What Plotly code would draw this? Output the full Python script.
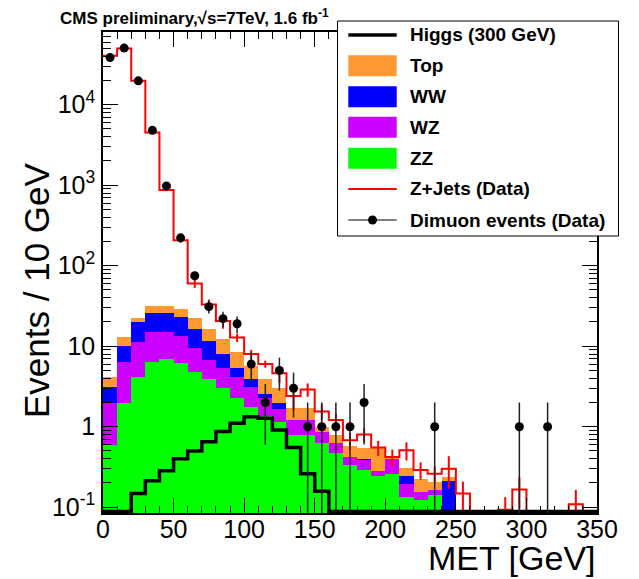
import plotly.graph_objects as go

# MET binning (GeV), 10 GeV bins from 0 to 350
met_edges = list(range(0, 360, 10))

# stacked backgrounds (events / bin), bottom to top
zz = [0.59, 1.96, 4.2, 6.34, 6.97, 6.16, 4.84, 3.89, 3.0, 2.26, 1.77, 1.36, 1.15,
      0.78, 0.78, 0.63, 0.47, 0.33, 0.29, 0.243, 0.26, 0.135, 0.122, 0.141,
      0, 0, 0, 0, 0, 0, 0, 0, 0, 0, 0]
wz = [1.37, 4.49, 7.0, 8.66, 8.23, 7.04, 4.63, 2.88, 2.34, 1.94, 1.33, 0.94, 0.5,
      0.42, 0.42, 0.24, 0.15, 0.09, 0.10, 0.037, 0.14, 0.058, 0.033, 0.022,
      0, 0, 0, 0, 0, 0, 0, 0, 0, 0, 0]
ww = [1.19, 3.75, 8.7, 10.8, 10.6, 9.8, 7.03, 4.93, 2.63, 1.14, 0.83, 0.23, 0.3,
      0, 0, 0, 0, 0, 0.01, 0, 0, 0.05, 0, 0, 0.21,
      0, 0, 0, 0, 0, 0, 0, 0, 0, 0]
top = [0.97, 2.77, 2.5, 5.4, 5.4, 6.0, 5.9, 4.8, 4.43, 3.25, 1.82, 1.36, 1.05,
       0.5, 0.49, 0.13, 0.18, 0.15, 0.15, 0.27, 0.01, 0.067, 0.07, 0.044, 0.025,
       0, 0, 0, 0, 0, 0, 0, 0, 0, 0]

# signal
higgs = [0, 0, 0.148, 0.213, 0.283, 0.40, 0.50, 0.65, 0.87, 1.10, 1.33, 1.27, 0.91,
         0.55, 0.26, 0.158, 0, 0, 0, 0, 0, 0, 0, 0, 0, 0, 0, 0, 0, 0, 0, 0, 0, 0, 0]

# Z+jets from data
zjets = [40500, 50000, 19800, 4500, 870, 207, 60, 33, 20.5, 12.8, 8.0, 6.0, 4.6,
         2.4, 2.9, 1.54, 1.21, 0.68, 0.80, 0.55, 0.42, 0.51, 0.29, 0.26, 0.30, 0.148,
         0, 0, 0.093, 0.166, 0, 0, 0, 0.109, 0]
zjets_err = [200, 220, 140, 65, 30, 14, 7, 5, 4, 1.5, 1.0, 0.6, 1.1,
             0.8, 0.55, 0.35, 0.25, 0.16, 0.16, 0.12, 0.1, 0.13, 0.07, 0.06, 0.13, 0.06,
             0, 0, 0.04, 0.07, 0, 0, 0, 0.055, 0]

# dimuon data
dimuon = [38500, 50500, 19800, 4800, 980, 222, 75, 31, 22, 19, 6, 2, 5, 3, 1, 1, 1, 1, 2,
          0, 0, 0, 0, 1, 0, 0, 0, 0, 0, 1, 0, 1, 0, 0, 0]
dimuon_err = [196, 225, 141, 69, 31, 14.9, 8.7, 5.6, 4.7, 4.4, 2.4, 1.4, 2.2, 1.7,
              1, 1, 1, 1, 1.4, 0, 0, 0, 0, 1, 0, 0, 0, 0, 0, 1, 0, 1, 0, 0, 0]

y_ticks = [0.1, 1, 10, 100, 1000, 10000]
y_ticktext = ["10<sup>-1</sup>", "1", "10", "10<sup>2</sup>", "10<sup>3</sup>", "10<sup>4</sup>"]

legend_labels = ["Higgs (300 GeV)", "Top", "WW", "WZ", "ZZ", "Z+Jets (Data)", "Dimuon events (Data)"]

FONT = "Liberation Sans, Arial, Helvetica, sans-serif"
Y_LOG = [-1.072, 4.903]
floor = 10 ** (Y_LOG[0] + 0.02)   # where ROOT draws empty bins on a log axis

centers = [e + 5 for e in met_edges[:-1]]

# pixel -> paper helpers for the legend / labels
W, H = 639, 579
L, R, T, B = 103, 597, 32, 513
def px(x):
    return (x - L) / (R - L)
def py(y):
    return (B - y) / (B - T)

fig = go.Figure()

for name, vals, col in [("ZZ", zz, "#00FF00"), ("WZ", wz, "#CC00FF"),
                        ("WW", ww, "#0000FF"), ("Top", top, "#FF9933")]:
    fig.add_trace(go.Bar(x=centers, y=vals, width=10, name=name,
                         marker=dict(color=col, line=dict(width=0)), showlegend=False))

def step(vals):
    v = [x if x > 0 else floor for x in vals]
    return v + [v[-1]]

fig.add_trace(go.Scatter(x=met_edges, y=step(zjets), mode="lines", line_shape="hv",
                         line=dict(color="#FF0000", width=2), showlegend=False))
zx = [c for c, v in zip(centers, zjets) if v > 0]
zy = [v for v in zjets if v > 0]
ze = [e for e, v in zip(zjets_err, zjets) if v > 0]
fig.add_trace(go.Scatter(x=zx, y=zy, mode="markers", marker=dict(size=1, color="#FF0000"),
                         error_y=dict(type="data", array=ze, width=0, thickness=2, color="#FF0000"),
                         showlegend=False))

fig.add_trace(go.Scatter(x=met_edges, y=step(higgs), mode="lines", line_shape="hv",
                         line=dict(color="black", width=3.5), showlegend=False))

dx = [c for c, v in zip(centers, dimuon) if v > 0]
dy = [v for v in dimuon if v > 0]
de = [e for e, v in zip(dimuon_err, dimuon) if v > 0]
fig.add_trace(go.Scatter(x=dx, y=dy, mode="markers", marker=dict(size=9, color="black"),
                         error_y=dict(type="data", array=de, width=0, thickness=1.5, color="#222222"),
                         showlegend=False))

axis_common = dict(showline=True, linecolor="black", linewidth=1.5, mirror="ticks",
                   ticks="inside", tickcolor="black", tickwidth=1, ticklen=15,
                   showgrid=False, zeroline=False, automargin=False,
                   tickfont=dict(family=FONT, size=25, color="black"))

fig.update_xaxes(range=[0, 350], dtick=50, tick0=0, ticklabelstandoff=-7,
                 minor=dict(dtick=10, ticks="inside", ticklen=7, tickcolor="black", showgrid=False),
                 **axis_common)
fig.update_yaxes(type="log", range=Y_LOG, tickmode="array", tickvals=y_ticks, ticktext=y_ticktext,
                 ticklabelstandoff=1,
                 minor=dict(dtick="D1", ticks="inside", ticklen=8, tickcolor="black", showgrid=False),
                 **axis_common)

# hand-drawn ROOT style legend
shapes = [dict(type="rect", xref="paper", yref="paper", layer="above",
               x0=px(337.5), x1=px(618.5), y0=py(236), y1=py(21),
               line=dict(color="black", width=1), fillcolor="white")]
annotations = []
row_y = [35, 65.7, 96.7, 127.3, 158.3, 189, 220]
sx0, sx1 = 348.3, 396.7
swatch = ["higgs", "#FF9933", "#0000FF", "#CC00FF", "#00FF00", "zjets", "data"]
for yc, sw, lab in zip(row_y, swatch, legend_labels):
    if sw == "higgs":
        shapes.append(dict(type="line", xref="paper", yref="paper", layer="above",
                           x0=px(sx0), x1=px(sx1), y0=py(yc), y1=py(yc),
                           line=dict(color="black", width=3.5)))
    elif sw == "zjets":
        shapes.append(dict(type="line", xref="paper", yref="paper", layer="above",
                           x0=px(sx0), x1=px(sx1), y0=py(yc), y1=py(yc),
                           line=dict(color="#FF0000", width=2)))
    elif sw == "data":
        shapes.append(dict(type="line", xref="paper", yref="paper", layer="above",
                           x0=px(sx0), x1=px(sx1), y0=py(yc), y1=py(yc),
                           line=dict(color="#555555", width=1.5)))
        xm = (sx0 + sx1) / 2
        shapes.append(dict(type="circle", xref="paper", yref="paper", layer="above",
                           x0=px(xm - 4.5), x1=px(xm + 4.5), y0=py(yc + 4.5), y1=py(yc - 4.5),
                           line=dict(color="black", width=0), fillcolor="black"))
    else:
        shapes.append(dict(type="rect", xref="paper", yref="paper", layer="above",
                           x0=px(sx0), x1=px(sx1), y0=py(yc + 10.5), y1=py(yc - 10.5),
                           line=dict(width=0), fillcolor=sw))
    annotations.append(dict(xref="paper", yref="paper", x=px(408), y=py(yc),
                            xanchor="left", yanchor="middle", showarrow=False,
                            text="<b>" + lab + "</b>",
                            font=dict(family=FONT, size=19, color="black")))

annotations += [
    dict(xref="paper", yref="paper", x=px(58), y=py(17), xanchor="left", yanchor="middle",
         showarrow=False, text="<b>CMS preliminary,√s=7TeV, 1.6 fb<sup>-1</sup></b>",
         font=dict(family=FONT, size=17, color="black")),
    dict(xref="paper", yref="paper", x=px(598), y=py(558), xanchor="right", yanchor="middle",
         showarrow=False, text="MET [GeV]", font=dict(family=FONT, size=34, color="black")),
    dict(xref="paper", yref="paper", x=px(37), y=py(290), xanchor="center", yanchor="middle",
         showarrow=False, textangle=-90, text="Events / 10 GeV",
         font=dict(family=FONT, size=35, color="black")),
]

fig.update_layout(width=W, height=H, barmode="stack", bargap=0,
                  margin=dict(l=L, r=W - R, t=T, b=H - B, autoexpand=False),
                  paper_bgcolor="white", plot_bgcolor="white",
                  shapes=shapes, annotations=annotations, showlegend=False)

# drop the browser's default 8px body margin so the figure sits at the page corner
fig.write_html("out.html", config={"displayModeBar": False},
               post_script="document.body.style.margin='0px';")
